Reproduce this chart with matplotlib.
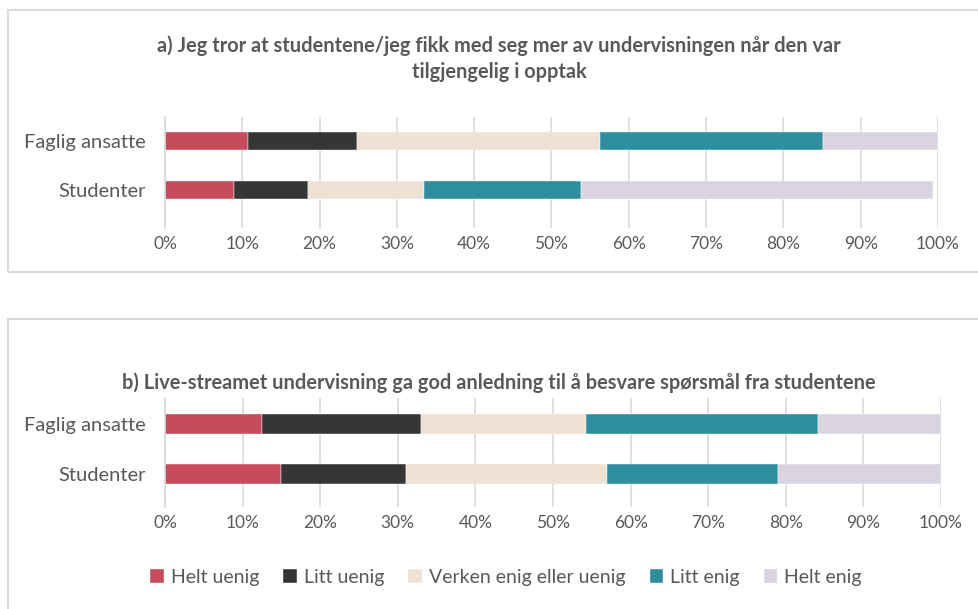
import matplotlib.pyplot as plt
from matplotlib.patches import Rectangle

plt.rcParams['font.family'] = ['Lato', 'DejaVu Sans']

groups = ['Faglig ansatte', 'Studenter']
categories = ['Helt uenig', 'Litt uenig', 'Verken enig eller uenig', 'Litt enig', 'Helt enig']
colors = ['#C84B5B', '#363636', '#EDE2D3', '#2E8E9E', '#DAD3E0']

# percent per category, order: Faglig ansatte, Studenter
a_vals = [[10.7, 8.9], [14.1, 9.6], [31.5, 15.0], [28.8, 20.3], [14.9, 45.6]]
b_vals = [[12.5, 14.9], [20.5, 16.1], [21.3, 26.0], [29.9, 22.0], [15.8, 21.0]]

title_a = 'a) Jeg tror at studentene/jeg fikk med seg mer av undervisningen når den var\ntilgjengelig i opptak'
title_b = 'b) Live-streamet undervisning ga god anledning til å besvare spørsmål fra studentene'
ticks = [0, 10, 20, 30, 40, 50, 60, 70, 80, 90, 100]

W, H = 979, 609
fig = plt.figure(figsize=(W / 100, H / 100), dpi=100)


def px_axes(x0, y0, x1, y1):
    # pixel box (top-left origin) -> figure axes
    return fig.add_axes([x0 / W, 1 - y1 / H, (x1 - x0) / W, (y1 - y0) / H])


# chart frames
for (y0, y1) in [(10, 272), (319, 612)]:
    fig.patches.append(Rectangle((8 / W, 1 - y1 / H), (990 - 8) / W, (y1 - y0) / H,
                                 transform=fig.transFigure, fill=False,
                                 edgecolor='#D9D9D9', linewidth=1.5))


def draw(ax, vals, ylim, bh):
    left = [0, 0]
    for cat, v, c in zip(categories, vals, colors):
        ax.barh([1, 0], v, left=left, height=bh, color=c, label=cat,
                edgecolor='white', linewidth=0.3)
        left = [l + x for l, x in zip(left, v)]
    ax.set_xlim(0, 100)
    ax.set_ylim(*ylim)
    ax.set_xticks(ticks)
    ax.set_xticklabels([f'{t}%' for t in ticks])
    ax.set_yticks([1, 0])
    ax.set_yticklabels(groups)
    ax.grid(axis='x', color='#D9D9D9', linewidth=1.2)
    ax.set_axisbelow(True)
    for s in ['top', 'right', 'bottom']:
        ax.spines[s].set_visible(False)
    ax.spines['left'].set_color('#D9D9D9')
    ax.spines['left'].set_linewidth(1.2)
    ax.tick_params(axis='x', length=0, labelsize=12.5, labelcolor='#595959', pad=6)
    ax.tick_params(axis='y', length=0, labelsize=14.5, labelcolor='#595959', pad=14)


ax1 = px_axes(165, 117, 938, 228)
draw(ax1, a_vals, (-0.776, 1.49), 0.37)
fig.text(499 / W, 1 - 59 / H, title_a, ha='center', va='center',
         fontsize=14.4, fontweight='bold', color='#595959', linespacing=1.35)

ax2 = px_axes(165, 398, 941, 507)
draw(ax2, b_vals, (-0.66, 1.52), 0.4)
fig.text(499 / W, 1 - 383 / H, title_b, ha='center', va='center',
         fontsize=14.4, fontweight='bold', color='#595959')

handles, labels = ax2.get_legend_handles_labels()
fig.legend(handles, labels, loc='center', bbox_to_anchor=(506 / W, 1 - 577 / H),
           ncol=5, frameon=False, fontsize=14, labelcolor='#595959',
           handlelength=0.7, handleheight=0.7, handletextpad=0.35, columnspacing=1.25)

fig.savefig('out.png', dpi=100)
